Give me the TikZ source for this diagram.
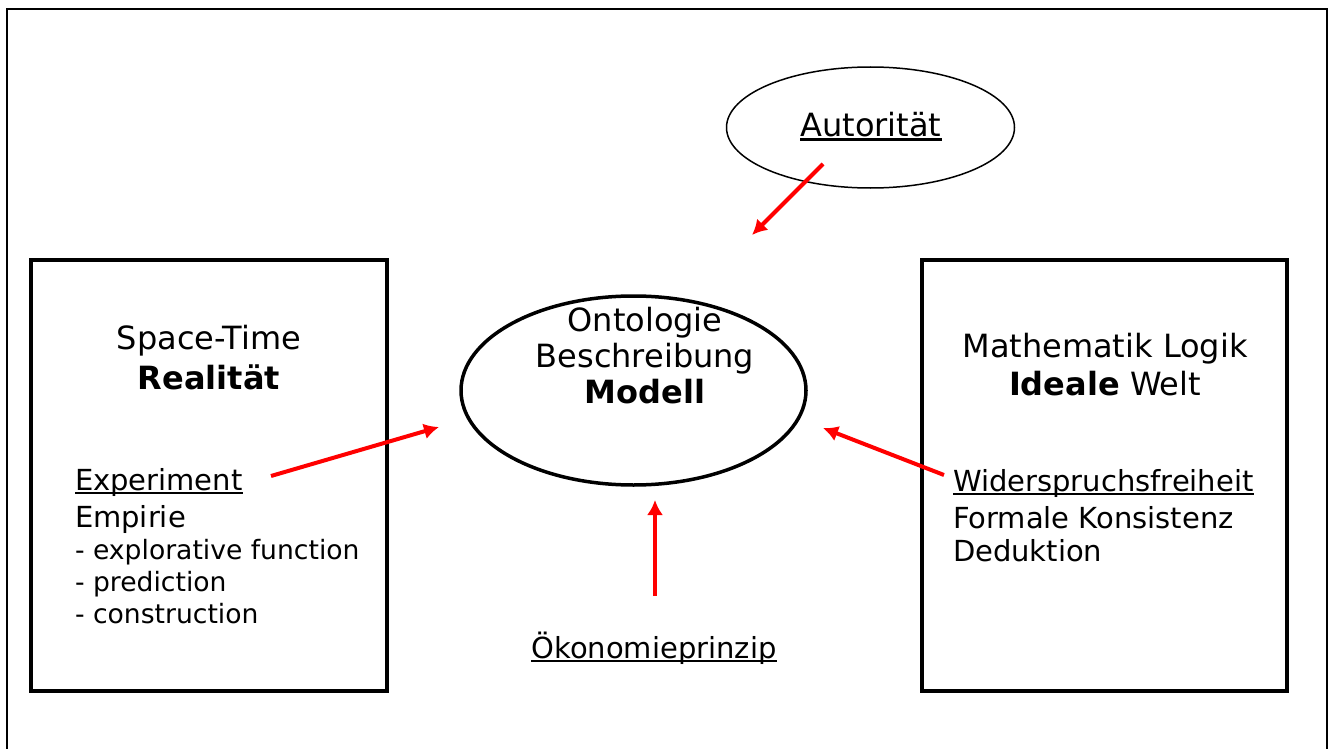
\documentclass[tikz,border=0pt]{standalone}
\usepackage{fontspec}
\setmainfont{DejaVu Sans}
\usepackage{tikz}
\usetikzlibrary{
  arrows.meta,
  positioning,
  shapes.geometric,
}
\tikzstyle{pfeil} = [
  -{Latex[length=7.5pt,width=8pt]},
  line width=2pt,
  red,
]
\tikzstyle{kasten} = [
  draw,
  line width=2pt,
]
\newcommand{\unterstr}[1]{\setbox0\hbox{#1}\rlap{\rule[-0.15em]{\wd0}{0.075em}}\box0}
\newcommand{\gross}{\fontsize{16}{19}\selectfont}
\newcommand{\klein}{\fontsize{14.5}{16.5}\selectfont}
\newcommand{\winzig}{\fontsize{13.3}{16}\selectfont}

\begin{document}
\begin{tikzpicture}[x=0.5pt, y=-0.5pt]
  \tikzstyle{every node}=[inner sep=0pt, outer sep=0pt]
  \useasboundingbox (0,0) rectangle (1333,749);
  \draw[line width=1pt] (6.7,749) -- (6.7,9) -- (1327.3,9) -- (1327.3,749);
  \node[kasten, minimum width=178pt, minimum height=215.75pt] (realbox) at (209.2,475.5) {};
  \node[kasten, minimum width=182.5pt, minimum height=215.75pt] (idealbox) at (1104.6,475.5) {};
  \node[ellipse, draw, line width=1.75pt, minimum width=172.5pt, minimum height=94.5pt] (modell) at (633.5,390.5) {};
  \node[ellipse, draw, line width=0.75pt, minimum width=144pt, minimum height=60.5pt] (autoritaet) at (870.5,127.5) {};
  \node[font=\gross, anchor=base] (autoritaettext) at (871,136) {\unterstr{Autorität}};
  \node[font=\gross, align=center, anchor=base] (realtitel) at (209,389) {Space-Time\\[1pt]\textbf{Realität}};
  \node[font=\gross, align=center, anchor=base] (modelltext) at (645,403) {Ontologie\\[-1pt]Beschreibung\\[-1pt]\textbf{Modell}};
  \node[font=\gross, align=center, anchor=base] (idealtitel) at (1105,395) {Mathematik Logik\\\textbf{Ideale} Welt};
  \node[font=\klein, align=left, anchor=base west] (empirie) at (75,527) {\unterstr{Experiment}\\[2pt]Empirie};
  \node[font=\winzig, align=left, anchor=base west] (funktionen) at (75,623) {- explorative function\\- prediction\\- construction};
  \node[font=\klein, align=left, anchor=base west] (deduktion) at (953,561) {\unterstr{Widerspruchsfreiheit}\\[2pt]Formale Konsistenz\\Deduktion};
  \node[font=\klein, anchor=base] (oekonomie) at (654,658) {\unterstr{Ökonomieprinzip}};
  \coordinate (autstart) at (823,164);
  \coordinate (autende) at (752,235);
  \coordinate (expstart) at (271,476);
  \coordinate (expende) at (439,427);
  \coordinate (widstart) at (944,475);
  \coordinate (widende) at (823,428);
  \coordinate (oekstart) at (655,596);
  \coordinate (oekende) at (655,500);
  \draw[pfeil] (autstart) -- (autende);
  \draw[pfeil] (expstart) -- (expende);
  \draw[pfeil] (widstart) -- (widende);
  \draw[pfeil] (oekstart) -- (oekende);
\end{tikzpicture}
\end{document}
